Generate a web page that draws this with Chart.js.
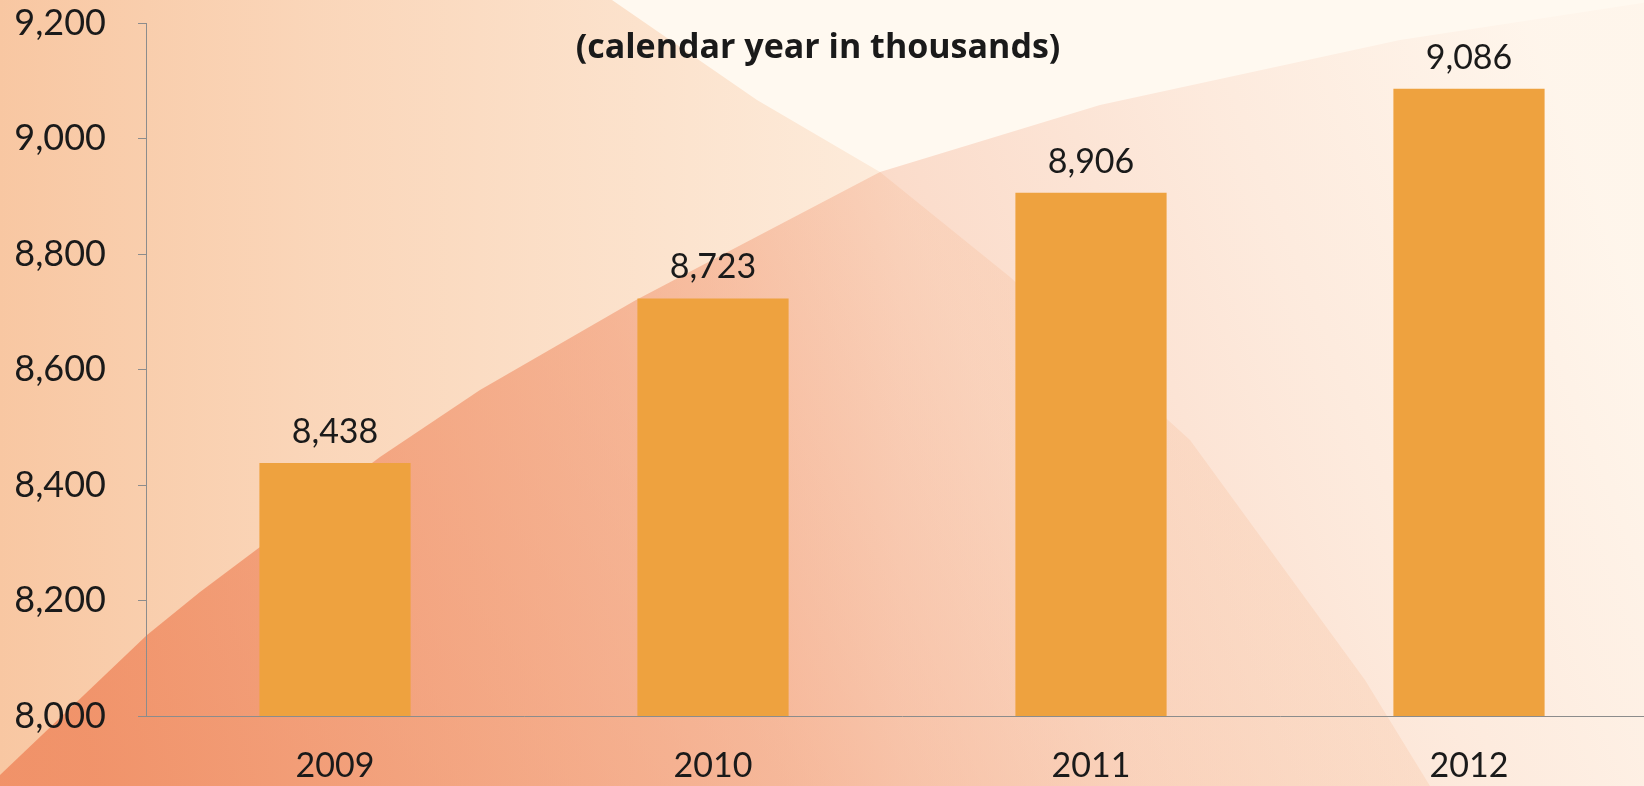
<!DOCTYPE html>
<html>
<head>
<meta charset="utf-8">
<script src="https://cdn.jsdelivr.net/npm/chart.js@4/dist/chart.umd.min.js"></script>
<style>
  html, body { margin: 0; padding: 0; overflow: hidden; background: #fff8ee; }
  #grafico { display: block; }
</style>
</head>
<body>
<canvas id="grafico" width="1662" height="786"></canvas>
<script>
// dados
const anos = ['2009', '2010', '2011', '2012'];
const valores = [8438, 8723, 8906, 9086];
const eixoMin = 8000;
const eixoMax = 9200;
const eixoPasso = 200;
const titulo = '(calendar year in thousands)';

const fmt = v => v.toLocaleString('en-US');

// fundo: duas formas sobrepostas em tons de laranja
const fundo = {
    id: 'fundo',
    beforeDraw(chart) {
        const ctx = chart.ctx;
        const w = chart.width, h = chart.height;
        ctx.save();
        ctx.fillStyle = '#fff9f0';
        ctx.fillRect(0, 0, w, h);

        // forma 1: tudo a esquerda da diagonal
        const g1 = ctx.createLinearGradient(0, 0, 900, 0);
        g1.addColorStop(0, 'rgba(240,140,70,0.46)');
        g1.addColorStop(0.35, 'rgba(240,140,70,0.32)');
        g1.addColorStop(1, 'rgba(240,140,70,0.12)');
        ctx.fillStyle = g1;
        ctx.beginPath();
        ctx.moveTo(0, 0);
        ctx.lineTo(612, 0);
        ctx.lineTo(757, 100);
        ctx.lineTo(880, 172);
        ctx.lineTo(1010, 277);
        ctx.lineTo(1190, 440);
        ctx.lineTo(1365, 680);
        ctx.lineTo(1430, 786);
        ctx.lineTo(0, 786);
        ctx.closePath();
        ctx.fill();

        // forma 2: abaixo da curva
        const g2 = ctx.createLinearGradient(100, 786, 1600, 200);
        g2.addColorStop(0, 'rgba(238,128,85,0.74)');
        g2.addColorStop(0.4, 'rgba(238,128,85,0.46)');
        g2.addColorStop(0.6, 'rgba(238,128,85,0.24)');
        g2.addColorStop(0.8, 'rgba(238,128,85,0.12)');
        g2.addColorStop(1, 'rgba(238,128,85,0.03)');
        ctx.fillStyle = g2;
        ctx.beginPath();
        ctx.moveTo(0, 775);
        ctx.lineTo(147, 635);
        ctx.lineTo(200, 592);
        ctx.lineTo(380, 457);
        ctx.lineTo(480, 390);
        ctx.lineTo(636, 300);
        ctx.lineTo(880, 172);
        ctx.lineTo(1100, 105);
        ctx.lineTo(1400, 40);
        ctx.lineTo(1662, 0);
        ctx.lineTo(1662, 786);
        ctx.lineTo(0, 786);
        ctx.closePath();
        ctx.fill();
        ctx.restore();
    }
};

// numeros em cima das barras
const rotulos = {
    id: 'rotulos',
    afterDatasetsDraw(chart) {
        const ctx = chart.ctx;
        const meta = chart.getDatasetMeta(0);
        ctx.save();
        ctx.font = '34px Lato';
        ctx.fillStyle = '#1a1a1a';
        ctx.textAlign = 'center';
        ctx.textBaseline = 'alphabetic';
        meta.data.forEach((barra, i) => {
            ctx.fillText(fmt(valores[i]), barra.x, barra.y - 20);
        });
        ctx.restore();
    }
};

const tituloPlugin = {
    id: 'tituloPlugin',
    afterDraw(chart) {
        const ctx = chart.ctx;
        ctx.save();
        ctx.font = 'bold 34px "Open Sans"';
        ctx.fillStyle = '#1a1a1a';
        ctx.textAlign = 'center';
        ctx.textBaseline = 'alphabetic';
        ctx.fillText(titulo, 818, 58);
        ctx.restore();
    }
};

new Chart(document.getElementById('grafico').getContext('2d'), {
    type: 'bar',
    data: {
        labels: anos,
        datasets: [{
            data: valores,
            backgroundColor: '#eea23f',
            barPercentage: 0.4,
            categoryPercentage: 1.0
        }]
    },
    options: {
        responsive: false,
        animation: false,
        devicePixelRatio: 1,
        layout: { padding: { top: 0, right: 4, left: 0, bottom: 0 } },
        plugins: {
            legend: { display: false },
            tooltip: { enabled: false }
        },
        scales: {
            x: {
                grid: { display: false },
                border: { display: true, color: '#8c8c8c', width: 1 },
                ticks: {
                    font: { family: 'Lato', size: 34 },
                    color: '#1a1a1a',
                    padding: 22
                },
                afterFit: s => { s.height = 70; }
            },
            y: {
                min: eixoMin,
                max: eixoMax,
                grid: {
                    drawOnChartArea: false,
                    drawTicks: true,
                    tickLength: 8,
                    color: '#8c8c8c'
                },
                border: { display: true, color: '#8c8c8c', width: 1 },
                ticks: {
                    stepSize: eixoPasso,
                    font: { family: 'Lato', size: 36 },
                    color: '#1a1a1a',
                    padding: 32,
                    callback: v => fmt(v)
                },
                afterFit: s => {
                    s.width = 146;
                    s.paddingTop = 23;
                }
            }
        }
    },
    plugins: [fundo, rotulos, tituloPlugin]
});
</script>
</body>
</html>
